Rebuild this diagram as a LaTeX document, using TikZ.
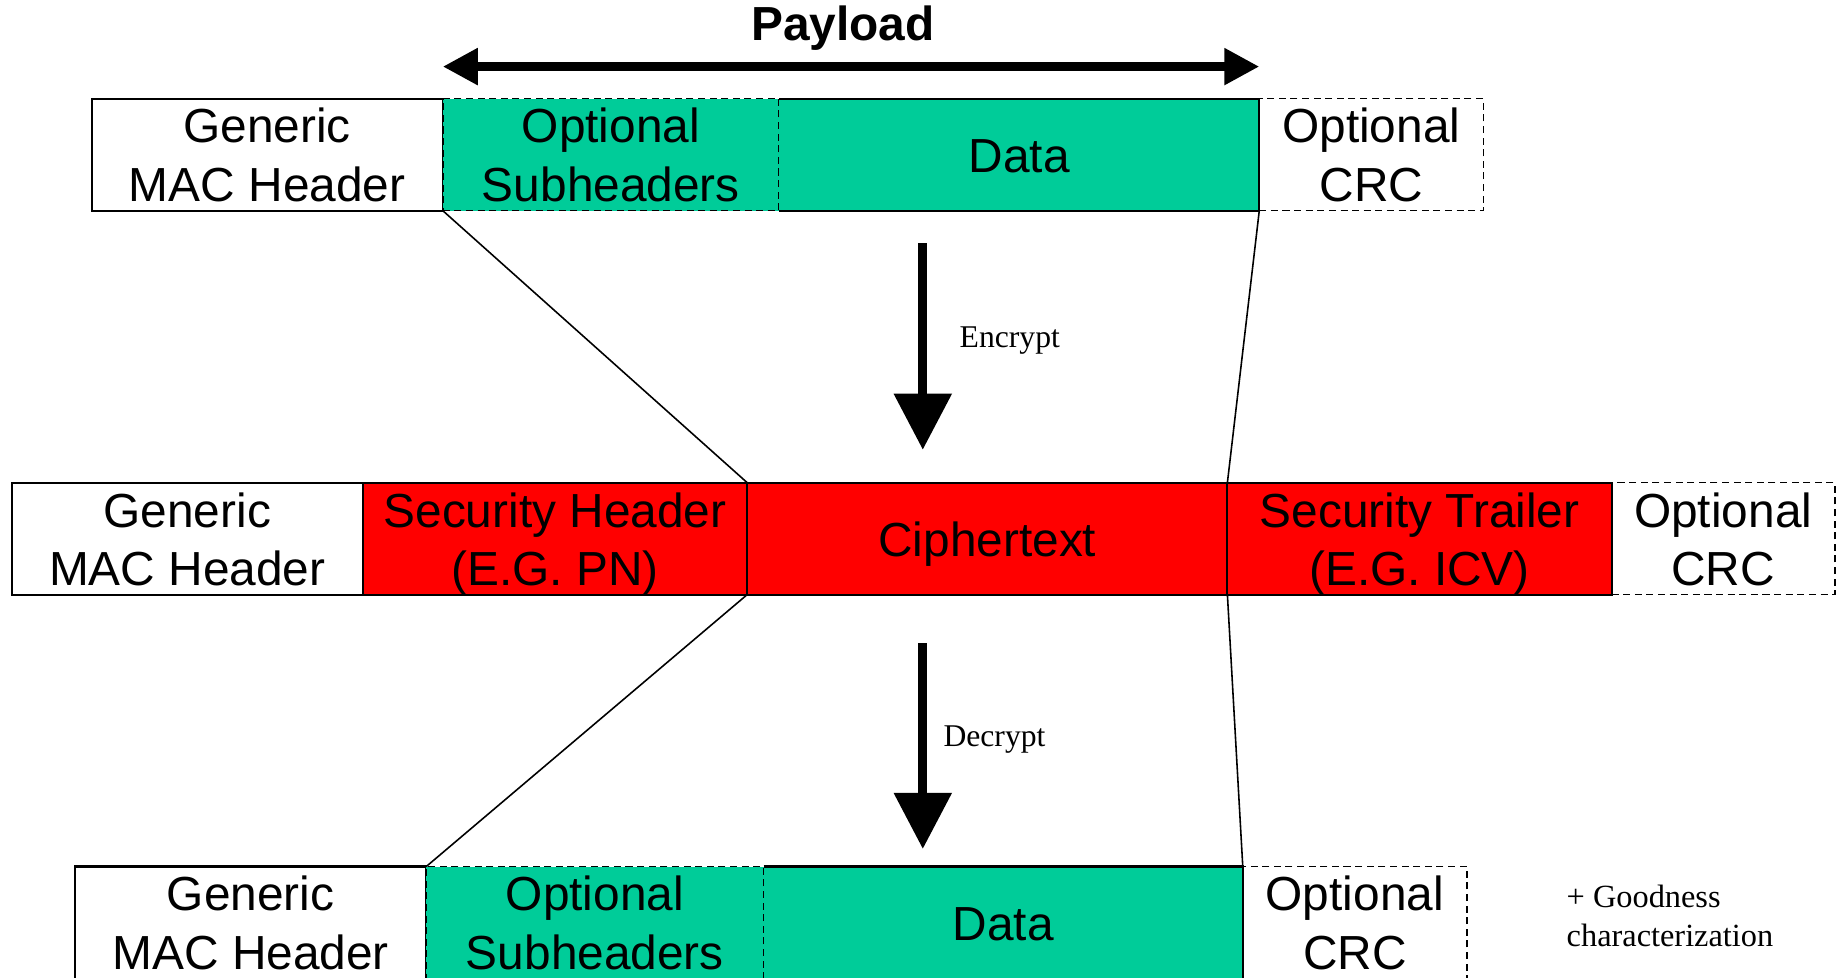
\documentclass[tikz,border=0pt]{standalone}
\usepackage{fontspec}
\setmainfont{Liberation Sans}
\newfontfamily\labelfont{Liberation Serif}
\usepackage{tikz}
\usetikzlibrary{arrows.meta,positioning}
\tikzset{field/.style={draw,line width=0.6pt,minimum height=1.12cm,inner sep=0pt,outer sep=0pt,
    font=\fontsize{13.6}{16.7}\selectfont}}
\tikzset{optfield/.style={field,line width=0.45pt,dash pattern=on 2pt off 1.3pt}}
\tikzset{oplabel/.style={font=\labelfont\fontsize{9}{11}\selectfont,anchor=west,inner sep=0pt}}
\tikzset{bigarrow/.style={line width=2.5pt,-{Triangle[width=5.6mm,length=5.6mm]}}}
\newcommand{\pdufield}[3][]{\node[field,#1] (#2)
    {\raisebox{-5.3pt}[0pt][0pt]{\begin{tabular}{@{}c@{}}#3\end{tabular}}}}

\begin{document}
\begin{tikzpicture}[x=0.01cm,y=-0.01cm]
        \definecolor{payload}{RGB}{0,204,153}
        \definecolor{cipher}{RGB}{255,0,0}
        \useasboundingbox (0,0) rectangle (1841,978);
        \clip (0,0) rectangle (1841,977);
        % plaintext PDU
        \pdufield[anchor=north west,at={(91.6,98.6)},minimum width=3.51cm]{gen1}{Generic\\MAC Header};
        \pdufield[optfield,right=0pt of gen1,fill=payload,minimum width=3.36cm]{sub1}{Optional\\Subheaders};
        \pdufield[draw=none,right=0pt of sub1,fill=payload,minimum width=4.80cm]{data1}{Data};
        \pdufield[optfield,right=0pt of data1,minimum width=2.24cm]{crc1}{Optional\\CRC};
        \draw[line width=0.6pt] (data1.north west) -- (data1.north east) -- (data1.south east) -- (data1.south west);
        % encrypted PDU
        \pdufield[anchor=north west,at={(11.7,482.6)},minimum width=3.51cm]{gen2}{Generic\\MAC Header};
        \pdufield[right=0pt of gen2,fill=cipher,minimum width=3.84cm]{sechdr}{Security Header\\(E.G. PN)};
        \pdufield[right=0pt of sechdr,fill=cipher,minimum width=4.80cm]{ctext}{Ciphertext};
        \pdufield[right=0pt of ctext,fill=cipher,minimum width=3.84cm]{sectrl}{Security Trailer\\(E.G. ICV)};
        \pdufield[optfield,right=0pt of sectrl,minimum width=2.23cm]{crc2}{Optional\\CRC};
        % decrypted PDU
        \pdufield[anchor=north west,at={(75.1,866.5)},minimum width=3.51cm]{gen3}{Generic\\MAC Header};
        \pdufield[optfield,right=0pt of gen3,fill=payload,minimum width=3.37cm]{sub3}{Optional\\Subheaders};
        \pdufield[draw=none,right=0pt of sub3,fill=payload,minimum width=4.79cm]{data3}{Data};
        \pdufield[optfield,right=0pt of data3,minimum width=2.24cm]{crc3}{Optional\\CRC};
        \draw[line width=0.6pt] (data3.north west) -- (data3.north east) -- (data3.south east) -- (data3.south west);
        \draw[line width=0.45pt]
        (sub1.south west) -- (ctext.north west)
        (data1.south east) -- (ctext.north east)
        (ctext.south west) -- (sub3.north west)
        (ctext.south east) -- (data3.north east);
        % payload span
        \coordinate (payL) at ([yshift=0.32cm]sub1.north west);
        \coordinate (payR) at ([yshift=0.32cm]data1.north east);
        \draw[line width=2.4pt,{Triangle[width=3.5mm,length=3.5mm]}-{Triangle[width=3.5mm,length=3.5mm]}] (payL) -- (payR);
        \node[font=\bfseries\fontsize{13.6}{16.7}\selectfont] (payload) at (843,28) {Payload};
        % encrypt / decrypt
        \coordinate (encA) at (922.8,243);
        \coordinate (encB) at (922.8,449.7);
        \coordinate (decA) at (922.8,643.4);
        \coordinate (decB) at (922.8,848.9);
        \draw[bigarrow] (encA) -- (encB);
        \draw[bigarrow] (decA) -- (decB);
        \node[oplabel] (enc) at (959,340.5) {Encrypt};
        \node[oplabel] (dec) at (942.8,739.5) {Decrypt};
        \node[oplabel,align=left,font=\labelfont\fontsize{9.2}{11}\selectfont] (good) at (1566,916) {+ Goodness\\characterization};
    \end{tikzpicture}
\end{document}
